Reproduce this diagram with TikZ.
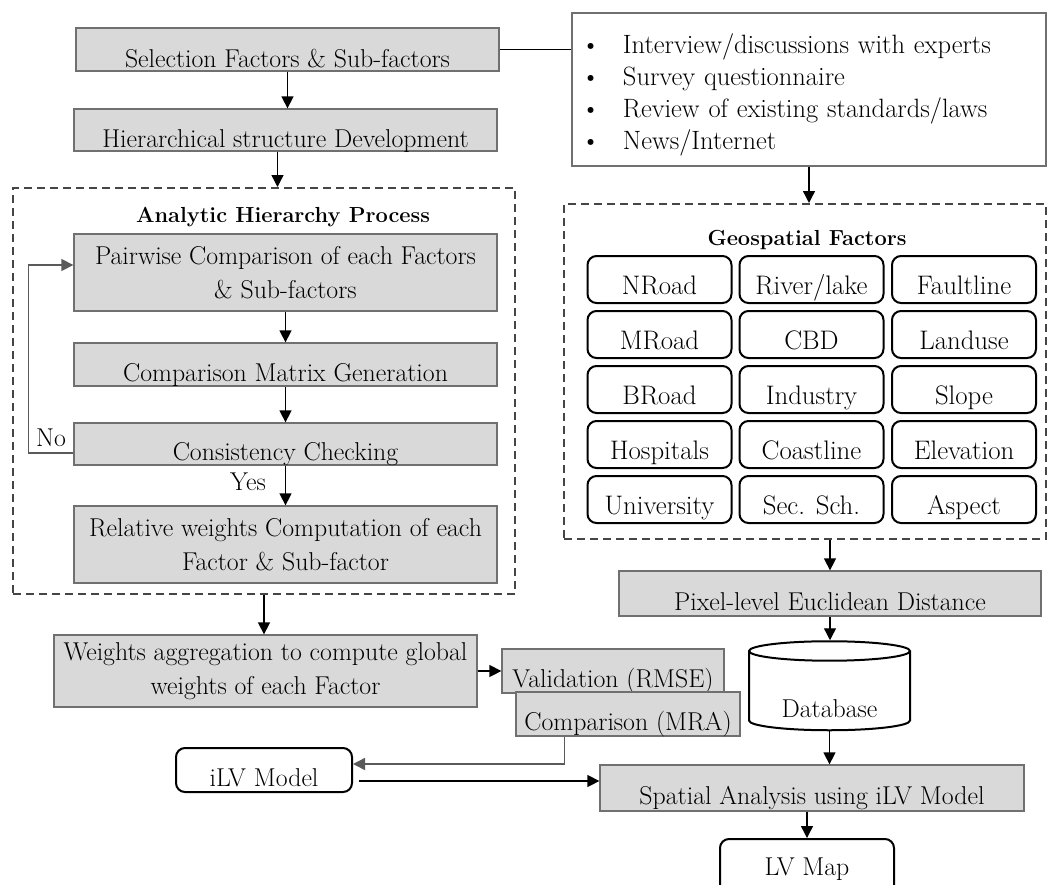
\documentclass[tikz,border=0pt]{standalone}
\usetikzlibrary{arrows.meta,shapes.geometric}
\definecolor{boxgray}{HTML}{D9D9D9}
\definecolor{edgegray}{HTML}{707070}
\definecolor{loopgray}{HTML}{5A5A5A}
\definecolor{dashgray}{HTML}{454545}
\begin{document}
\begin{tikzpicture}[x=1pt, y=-1pt,
  font=\fontsize{25.8}{34}\selectfont,
  >={Triangle[length=12pt,width=12pt]},
  grey/.style={draw=edgegray, fill=boxgray, line width=1.3pt, inner sep=2pt, align=center},
  oneline/.style={text height=33pt, text depth=0pt},
  soft/.style={draw, line width=2pt, rounded corners=9pt, oneline},
  factor/.style={soft, minimum width=144pt, minimum height=47pt, text height=29pt, font=\fontsize{26.8}{28}\selectfont},
  frame/.style={draw=dashgray, line width=2pt, dash pattern=on 8pt off 5pt},
  title/.style={font=\bfseries\fontsize{21.8}{25}\selectfont},
  link/.style={->, line width=1.4pt}]
  \useasboundingbox (0,0) rectangle (1047,884);
  \clip (0,0) rectangle (1047,884);

  % left column
  \node[grey, oneline, text height=35pt, minimum width=423pt, minimum height=43pt] (sel)  at (287.5,49.5) {Selection Factors \& Sub-factors};
  \node[grey, oneline, text height=35pt, minimum width=423pt, minimum height=42pt] (hier) at (285.5,130)  {Hierarchical structure Development};
  \node[draw=edgegray, line width=1.3pt, text width=456pt, inner xsep=9pt, minimum height=153pt, align=left,
        font=\fontsize{26.5}{32}\selectfont] (bul) at (809,89.5)
    {\rule{0pt}{30pt}\makebox[42pt][l]{\textbullet}Interview/discussions with experts\\
     \makebox[42pt][l]{\textbullet}Survey questionnaire\\
     \makebox[42pt][l]{\textbullet}Review of existing standards/laws\\
     \makebox[42pt][l]{\textbullet}News/Internet};

  % AHP block
  \node[frame, minimum width=502pt, minimum height=406pt] (ahp) at (264,391) {};
  \node[title] (ahptitle) at (283,217) {Analytic Hierarchy Process};
  \node[grey, minimum width=423pt, minimum height=77pt] (pair) at (285.5,272.5) {Pairwise Comparison of each Factors\\ \& Sub-factors};
  \node[grey, oneline, minimum width=423pt, minimum height=43pt] (cmg)  at (285.5,364.5) {Comparison Matrix Generation};
  \node[grey, oneline, minimum width=423pt, minimum height=42pt] (cons) at (285.5,444)   {Consistency Checking};
  \node[grey, minimum width=423pt, minimum height=77pt] (rel)  at (285.5,544.5) {Relative weights Computation of each\\ Factor \& Sub-factor};
  \node (no)  at (51,438)  {No};
  \node (yes) at (248,482) {Yes};

  % geospatial block
  \node[frame, minimum width=482pt, minimum height=335pt] (geo) at (805,371.5) {};
  \node[title] (geotitle) at (807,240) {Geospatial Factors};
  \node[factor] (nroad) at (659.5,279.5) {NRoad};
  \node[factor] (river) at (811.5,279.5) {River/lake};
  \node[factor] (fault) at (964,279.5)   {Faultline};
  \node[factor] (mroad) at (659.5,334.5) {MRoad};
  \node[factor] (cbd)   at (811.5,334.5) {CBD};
  \node[factor] (land)  at (964,334.5)   {Landuse};
  \node[factor] (broad) at (659.5,389.5) {BRoad};
  \node[factor] (indus) at (811.5,389.5) {Industry};
  \node[factor] (slope) at (964,389.5)   {Slope};
  \node[factor] (hosp)  at (659.5,444.5) {Hospitals};
  \node[factor] (coast) at (811.5,444.5) {Coastline};
  \node[factor] (elev)  at (964,444.5)   {Elevation};
  \node[factor] (univ)  at (659.5,499.5) {University};
  \node[factor] (sec)   at (811.5,499.5) {Sec. Sch.};
  \node[factor] (asp)   at (964,499.5)   {Aspect};

  % lower part
  \node[grey, minimum width=423pt, minimum height=72pt] (weights) at (265.5,671) {Weights aggregation to compute global\\ weights of each Factor};
  \node[grey, oneline, minimum width=222pt, minimum height=44pt] (valid) at (613,671) {Validation (RMSE)};
  \node[grey, oneline, minimum width=224pt, minimum height=44pt] (comp)  at (628,714) {Comparison (MRA)};
  \node[soft, minimum width=176pt, minimum height=44pt] (ilv) at (264,770) {iLV Model};
  \node[grey, oneline, minimum width=422pt, minimum height=45pt] (pixel) at (830,593.5) {Pixel-level Euclidean Distance};
  \node[cylinder, shape border rotate=90, shape aspect=0.19, draw, line width=2pt,
        minimum width=161pt, minimum height=89pt, text height=49pt, text depth=0pt] (db) at (829.5,692.5) {Database};
  \node[grey, oneline, minimum width=424pt, minimum height=46pt] (spatial) at (812,788) {Spatial Analysis using iLV Model};
  \node[draw, line width=2pt, rounded corners=9pt, minimum width=174pt, minimum height=60pt] (lvmap) at (807,869) {LV Map};

  % connectors
  \draw[line width=1.4pt] (sel.east) -- (sel.east -| bul.west);
  \draw[link] (sel.south) -- (sel.south |- hier.north);
  \draw[link] ([xshift=-8pt]hier.south) -- ([xshift=-8pt]hier.south |- ahp.north);
  \draw[link] (pair) -- (cmg);
  \draw[link] (cmg) -- (cons);
  \draw[link] (cons) -- (rel);
  \draw[link, draw=loopgray] ([yshift=-9pt]cons.west) -- ++(-45,0) |- ([yshift=7.5pt]pair.west);
  \draw[link] (bul.south) -- (bul.south |- geo.north);
  \draw[link] (pixel.north |- geo.south) -- (pixel.north);
  \draw[link] (pixel.south) -- (pixel.south |- db.north);
  \draw[link] (db.south) -- (db.south |- spatial.north);
  \draw[link] (lvmap.north |- spatial.south) -- (lvmap.north);
  \draw[link] (ahp.south) -- (ahp.south |- weights.north);
  \draw[link] (weights.east) -- (weights.east -| valid.west);
  \draw[link, draw=loopgray] ([xshift=49pt]comp.south west) |- ([yshift=6pt]ilv.east);
  \draw[link] ([xshift=6pt,yshift=-11pt]ilv.east) -- ([yshift=7pt]spatial.west);
\end{tikzpicture}
\end{document}
